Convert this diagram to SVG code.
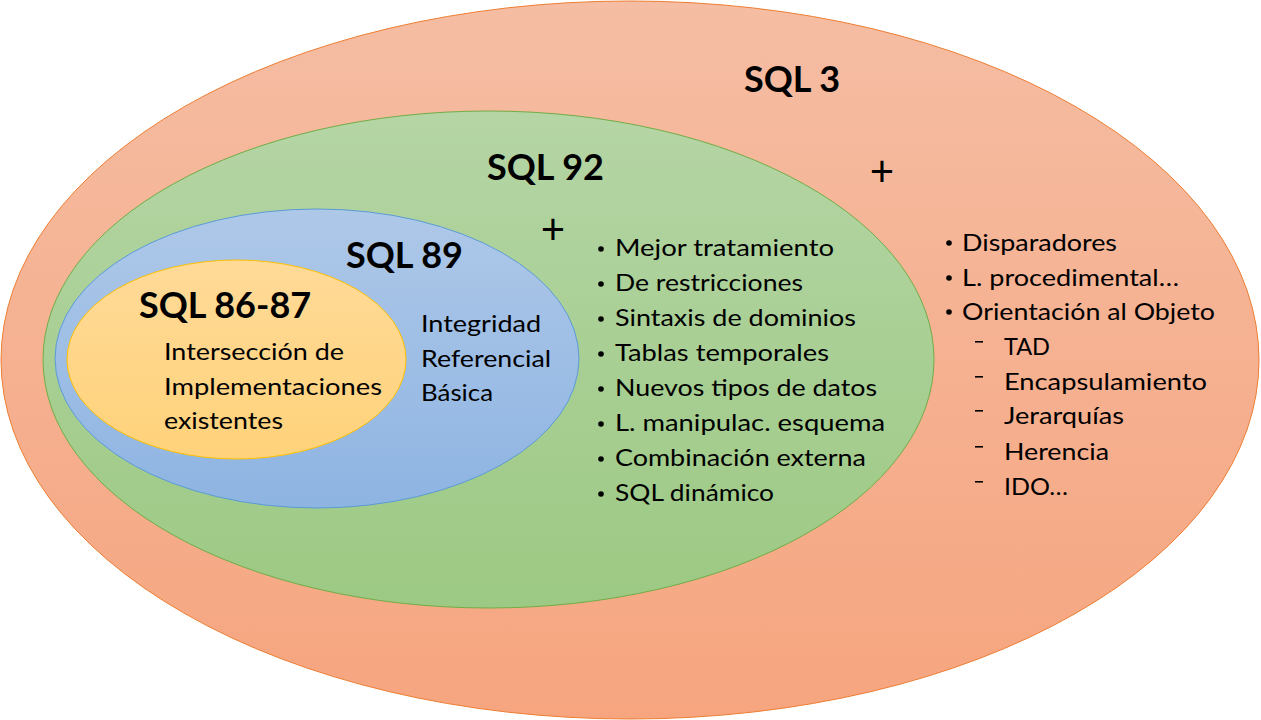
<svg xmlns="http://www.w3.org/2000/svg" width="1261" height="720" viewBox="0 0 1261 720">
<defs>
<linearGradient id="gO" x1="0" y1="0" x2="0" y2="1"><stop offset="0" stop-color="#F5BDA3"/><stop offset="1" stop-color="#F6A57F"/></linearGradient>
<linearGradient id="gG" x1="0" y1="0" x2="0" y2="1"><stop offset="0" stop-color="#B5D5A5"/><stop offset="1" stop-color="#9CC983"/></linearGradient>
<linearGradient id="gB" x1="0" y1="0" x2="0" y2="1"><stop offset="0" stop-color="#AEC8E8"/><stop offset="1" stop-color="#8EB4E2"/></linearGradient>
<linearGradient id="gY" x1="0" y1="0" x2="0" y2="1"><stop offset="0" stop-color="#FFDA98"/><stop offset="1" stop-color="#FFD27A"/></linearGradient>
<style>
text{font-family:Lato,"Open Sans","Liberation Sans",sans-serif;fill:#000}
.t{font-weight:bold;font-size:36px}
.b{font-size:23px}
.i{font-size:24px}
.p{font-size:42px}
</style>
</defs>
<g id="sql3">
<ellipse cx="630" cy="360" rx="629" ry="359" fill="url(#gO)" stroke="#ED7D31" stroke-width="1"/>
<text class="t" x="744" y="92">SQL 3</text>
<text class="p" x="882" y="186" text-anchor="middle">+</text>
<text class="b" x="962" y="251" textLength="155" lengthAdjust="spacingAndGlyphs">Disparadores</text>
<text class="b" x="962" y="286" textLength="217" lengthAdjust="spacingAndGlyphs">L. procedimental…</text>
<text class="b" x="962" y="320" textLength="253" lengthAdjust="spacingAndGlyphs">Orientación al Objeto</text>
<text class="b" x="1004" y="355" textLength="46" lengthAdjust="spacingAndGlyphs">TAD</text>
<text class="b" x="1004" y="390" textLength="203" lengthAdjust="spacingAndGlyphs">Encapsulamiento</text>
<text class="b" x="1004" y="424" textLength="120" lengthAdjust="spacingAndGlyphs">Jerarquías</text>
<text class="b" x="1004" y="460" textLength="105" lengthAdjust="spacingAndGlyphs">Herencia</text>
<text class="b" x="1004" y="495" textLength="64" lengthAdjust="spacingAndGlyphs">IDO…</text>
<g fill="#000">
<circle cx="949" cy="243" r="2.8"/><circle cx="949" cy="278" r="2.8"/><circle cx="949" cy="312" r="2.8"/>
<rect x="975" y="341" width="8" height="1.6"/><rect x="975" y="376" width="8" height="1.6"/><rect x="975" y="410" width="8" height="1.6"/><rect x="975" y="446" width="8" height="1.6"/><rect x="975" y="481" width="8" height="1.6"/>
</g>
</g>
<g id="sql92">
<ellipse cx="488.5" cy="359.5" rx="445.5" ry="248.5" fill="url(#gG)" stroke="#70AD47" stroke-width="1"/>
<text class="t" x="487" y="180">SQL 92</text>
<text class="p" x="553" y="244" text-anchor="middle">+</text>
<text class="b" x="615" y="256" textLength="219" lengthAdjust="spacingAndGlyphs">Mejor tratamiento</text>
<text class="b" x="615" y="291" textLength="188" lengthAdjust="spacingAndGlyphs">De restricciones</text>
<text class="b" x="615" y="326" textLength="241" lengthAdjust="spacingAndGlyphs">Sintaxis de dominios</text>
<text class="b" x="615" y="361" textLength="214" lengthAdjust="spacingAndGlyphs">Tablas temporales</text>
<text class="b" x="615" y="396" textLength="262" lengthAdjust="spacingAndGlyphs">Nuevos tipos de datos</text>
<text class="b" x="615" y="431" textLength="270" lengthAdjust="spacingAndGlyphs">L. manipulac. esquema</text>
<text class="b" x="615" y="466" textLength="251" lengthAdjust="spacingAndGlyphs">Combinación externa</text>
<text class="b" x="615" y="501" textLength="159" lengthAdjust="spacingAndGlyphs">SQL dinámico</text>
<g fill="#000">
<circle cx="601" cy="249" r="2.8"/><circle cx="601" cy="284" r="2.8"/><circle cx="601" cy="319" r="2.8"/><circle cx="601" cy="354" r="2.8"/><circle cx="601" cy="389" r="2.8"/><circle cx="601" cy="424" r="2.8"/><circle cx="601" cy="459" r="2.8"/><circle cx="601" cy="494" r="2.8"/>
</g>
</g>
<g id="sql89">
<ellipse cx="317" cy="358.5" rx="262" ry="149.5" fill="url(#gB)" stroke="#5B9BD5" stroke-width="1"/>
<text class="t" x="346" y="268">SQL 89</text>
<text class="i" x="421" y="332" textLength="120" lengthAdjust="spacingAndGlyphs">Integridad</text>
<text class="i" x="421" y="367" textLength="130" lengthAdjust="spacingAndGlyphs">Referencial</text>
<text class="i" x="421" y="401" textLength="72" lengthAdjust="spacingAndGlyphs">Básica</text>
</g>
<g id="sql86">
<ellipse cx="236.5" cy="359.5" rx="169.5" ry="99.5" fill="url(#gY)" stroke="#FFC000" stroke-width="1"/>
<text class="t" x="139" y="318">SQL 86-87</text>
<text class="i" x="164" y="360" textLength="180" lengthAdjust="spacingAndGlyphs">Intersección de</text>
<text class="i" x="164" y="395" textLength="218" lengthAdjust="spacingAndGlyphs">Implementaciones</text>
<text class="i" x="164" y="429" textLength="119" lengthAdjust="spacingAndGlyphs">existentes</text>
</g>
<g id="connectors"/>
</svg>
